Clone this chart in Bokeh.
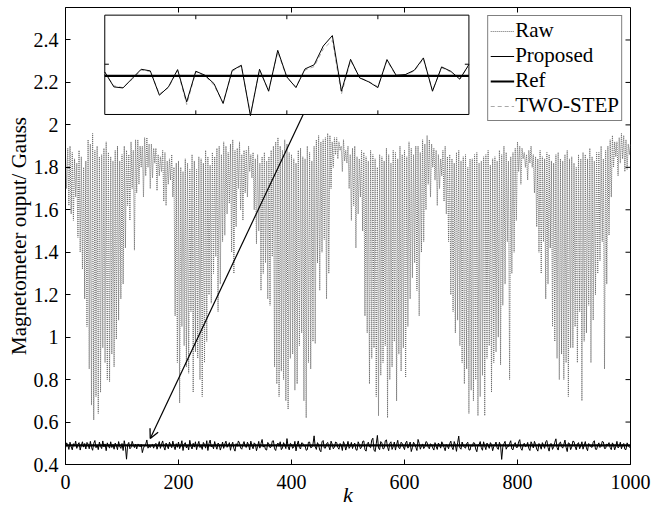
import numpy as np
from bokeh.plotting import figure
from bokeh.models import Range1d, FixedTicker, Arrow, OpenHead, Legend, LegendItem
from bokeh.embed import file_html
from bokeh.resources import INLINE

# ---------------- data ----------------
k_step = 2
raw = [
    1.86,1.70, 1.89,1.62, 1.90,1.58, 1.87,1.55, 1.84,1.66, 1.82,1.47, 1.88,1.40, 1.85,1.32, 1.80,1.18, 1.83,1.05,
    1.93,0.85, 1.91,0.68, 1.96,0.61, 1.88,0.72, 1.90,0.64, 1.85,0.74, 1.86,0.95, 1.89,0.88, 1.92,0.80, 1.87,0.79,
    1.85,0.92, 1.83,0.86, 1.88,0.99, 1.90,1.08, 1.83,1.18, 1.86,1.25, 1.90,1.42, 1.88,1.62, 1.86,1.55, 1.92,1.70,
    1.88,1.41, 1.93,1.68, 1.93,1.72, 1.90,1.80, 1.90,1.66, 1.94,1.76, 1.94,1.80, 1.91,1.70, 1.91,1.75, 1.89,1.82,
    1.89,1.69, 1.86,1.76, 1.85,1.78, 1.88,1.64, 1.87,1.62, 1.83,1.72, 1.84,1.74, 1.86,1.66, 1.80,1.10, 1.82,0.88,
    1.83,0.69, 1.80,1.05, 1.78,0.96, 1.84,0.86, 1.82,0.83, 1.79,1.12, 1.86,0.74, 1.83,0.93, 1.79,0.90, 1.85,0.80,
    1.84,0.72, 1.82,0.88, 1.88,0.98, 1.85,1.20, 1.81,1.16, 1.87,1.30, 1.85,1.38, 1.89,1.12, 1.90,1.25, 1.86,1.45,
    1.92,1.48, 1.90,1.58, 1.87,1.63, 1.91,1.40, 1.93,1.30, 1.88,1.52, 1.89,1.70, 1.92,1.60, 1.86,1.55, 1.88,1.68,
    1.88,1.66, 1.90,1.78, 1.86,1.75, 1.87,1.60, 1.84,1.44, 1.86,1.50, 1.82,1.22, 1.85,1.30, 1.87,1.35, 1.83,1.18,
    1.85,1.15, 1.88,1.38, 1.90,0.86, 1.92,0.78, 1.94,0.72, 1.90,0.84, 1.88,0.80, 1.93,0.70, 1.91,0.66, 1.87,0.90,
    1.86,0.92, 1.84,0.75, 1.82,0.78, 1.88,0.96, 1.89,1.02, 1.85,0.70, 1.84,0.62, 1.90,0.88, 1.87,0.85, 1.83,0.98,
    1.90,0.97, 1.93,1.35, 1.95,1.22, 1.92,1.40, 1.93,1.46, 1.94,1.18, 1.96,1.30, 1.95,1.70, 1.92,1.80, 1.94,1.86,
    1.94,1.84, 1.92,1.88, 1.90,1.78, 1.93,1.83, 1.88,1.82, 1.90,1.70, 1.86,1.55, 1.89,1.62, 1.90,1.42, 1.85,1.58,
    1.84,1.66, 1.88,1.50, 1.87,1.10, 1.85,1.02, 1.83,0.78, 1.88,0.90, 1.86,0.95, 1.84,0.72, 1.80,0.63, 1.86,0.82,
    1.85,0.88, 1.83,0.96, 1.89,0.62, 1.86,0.80, 1.82,0.86, 1.88,0.98, 1.87,0.70, 1.84,0.92, 1.90,0.84, 1.86,0.95,
    1.88,0.81, 1.85,1.05, 1.92,1.18, 1.89,1.28, 1.86,1.35, 1.90,1.22, 1.90,1.10, 1.87,1.40, 1.93,1.45, 1.91,1.60,
    1.95,1.72, 1.93,1.66, 1.91,1.80, 1.89,1.74, 1.88,1.62, 1.86,1.70, 1.84,1.76, 1.88,1.64, 1.90,1.58, 1.85,1.45,
    1.86,1.20, 1.84,1.12, 1.82,1.02, 1.87,1.08, 1.88,0.96, 1.83,0.88, 1.85,0.78, 1.86,0.85, 1.80,0.64, 1.84,0.75,
    1.84,0.70, 1.86,0.80, 1.87,0.63, 1.82,0.72, 1.83,0.82, 1.85,0.63, 1.86,0.90, 1.88,0.96, 1.81,0.74, 1.84,0.88,
    1.85,0.93, 1.83,1.00, 1.88,0.87, 1.86,1.15, 1.90,1.25, 1.87,1.45, 1.83,0.80, 1.85,1.30, 1.87,1.40, 1.89,1.55,
    1.92,1.78, 1.90,1.72, 1.89,1.84, 1.87,1.80, 1.86,1.74, 1.88,1.82, 1.90,1.80, 1.86,1.68, 1.85,1.52, 1.84,1.40,
    1.88,1.30, 1.85,1.45, 1.84,1.18, 1.87,1.25, 1.86,1.42, 1.83,1.05, 1.82,0.98, 1.86,0.90, 1.87,0.80, 1.84,0.92,
    1.83,0.80, 1.86,0.88, 1.88,0.72, 1.84,0.95, 1.85,0.95, 1.82,1.05, 1.80,0.88, 1.86,1.12, 1.84,0.70, 1.87,0.98,
    1.86,1.02, 1.84,1.15, 1.89,0.88, 1.85,1.08, 1.83,1.20, 1.87,1.30, 1.87,1.36, 1.90,1.45, 1.84,0.85, 1.88,1.25,
    1.90,1.48, 1.93,1.66, 1.95,1.80, 1.92,1.85, 1.92,1.76, 1.94,1.82, 1.96,1.84, 1.95,1.78, 1.93,1.79, 1.91,1.86,
    1.91,
]
proposed = [
    0.478,0.502, 0.493,0.471, 0.505,0.484, 0.469,0.498, 0.487,0.510, 0.476,0.495, 0.503,0.468, 0.491,0.507, 0.482,0.499, 0.473,0.504,
    0.496,0.474, 0.509,0.481, 0.467,0.500, 0.513,0.479, 0.492,0.470, 0.506,0.486, 0.475,0.511, 0.483,0.497, 0.465,0.502, 0.488,0.477,
    0.507,0.480, 0.494,0.472, 0.501,0.489, 0.470,0.508, 0.485,0.476, 0.499,0.466, 0.512,0.484, 0.425,0.493, 0.504,0.474, 0.481,0.509,
    0.4934,0.4797, 0.4957,0.4735, 0.4954,0.4940, 0.4834,0.4948, 0.4560,0.4769, 0.4891,0.4960, 0.5156,0.4769, 0.4883,0.4800, 0.4906,0.4948, 0.4769,0.4940,
    0.4997,0.472, 0.490,0.508, 0.476,0.497, 0.511,0.483, 0.468,0.501, 0.487,0.474, 0.505,0.492, 0.479,0.510, 0.486,0.470, 0.498,0.481,
    0.506,0.475, 0.489,0.512, 0.466,0.495, 0.503,0.478, 0.491,0.469, 0.514,0.486, 0.473,0.500, 0.482,0.507, 0.470,0.493, 0.509,0.480,
    0.488,0.471, 0.504,0.494, 0.477,0.512, 0.466,0.499, 0.515,0.483, 0.490,0.474, 0.508,0.487, 0.472,0.501, 0.495,0.468, 0.484,0.506,
    0.476,0.497, 0.510,0.481, 0.489,0.503, 0.467,0.492, 0.505,0.475, 0.463,0.498, 0.486,0.511, 0.501,0.478, 0.472,0.494, 0.508,0.485,
    0.480,0.505, 0.493,0.469, 0.510,0.488, 0.474,0.502, 0.496,0.465, 0.485,0.509, 0.477,0.499, 0.518,0.482, 0.490,0.471, 0.468,0.504,
    0.497,0.479, 0.483,0.510, 0.512,0.474, 0.466,0.492, 0.501,0.486, 0.507,0.470, 0.478,0.503, 0.491,0.475, 0.522,0.484, 0.469,0.500,
    0.495,0.476, 0.482,0.509, 0.464,0.493, 0.511,0.480, 0.473,0.502, 0.500,0.487, 0.489,0.467, 0.470,0.505, 0.506,0.479, 0.481,0.496,
    0.535,0.484, 0.471,0.503, 0.492,0.468, 0.460,0.507, 0.513,0.478, 0.477,0.498, 0.504,0.485, 0.469,0.510, 0.496,0.474, 0.482,0.506,
    0.503,0.480, 0.472,0.499, 0.490,0.466, 0.508,0.494, 0.468,0.487, 0.509,0.476, 0.485,0.504, 0.475,0.493, 0.501,0.470, 0.467,0.507,
    0.494,0.474, 0.482,0.509, 0.511,0.470, 0.463,0.498, 0.505,0.484, 0.479,0.515, 0.524,0.468, 0.461,0.497, 0.537,0.478, 0.470,0.508,
    0.502,0.473, 0.476,0.512, 0.516,0.482, 0.465,0.500, 0.507,0.471, 0.484,0.506, 0.468,0.494, 0.514,0.478, 0.475,0.505, 0.499,0.483,
    0.470,0.501, 0.510,0.477, 0.487,0.506, 0.461,0.479, 0.505,0.495, 0.481,0.466, 0.518,0.500, 0.472,0.486, 0.497,0.475, 0.484,0.508,
    0.504,0.481, 0.474,0.498, 0.492,0.478, 0.468,0.503, 0.486,0.471, 0.501,0.492, 0.477,0.507, 0.496,0.480, 0.465,0.494, 0.488,0.474,
    0.499,0.510, 0.481,0.470, 0.508,0.493, 0.462,0.502, 0.534,0.478, 0.472,0.506, 0.490,0.481, 0.477,0.499, 0.505,0.469, 0.468,0.492,
    0.486,0.503, 0.501,0.473, 0.460,0.491, 0.494,0.508, 0.479,0.467, 0.507,0.487, 0.470,0.501, 0.490,0.476, 0.503,0.494, 0.465,0.485,
    0.492,0.506, 0.477,0.471, 0.505,0.490, 0.424,0.482, 0.498,0.509, 0.472,0.484, 0.485,0.500, 0.512,0.473, 0.469,0.494, 0.503,0.480,
    0.481,0.507, 0.517,0.476, 0.467,0.491, 0.500,0.484, 0.487,0.504, 0.475,0.466, 0.507,0.495, 0.478,0.509, 0.494,0.473, 0.463,0.499,
    0.488,0.472, 0.503,0.491, 0.476,0.508, 0.513,0.480, 0.463,0.497, 0.498,0.471, 0.484,0.505, 0.521,0.479, 0.468,0.501, 0.506,0.485,
    0.477,0.495, 0.515,0.481, 0.461,0.502, 0.499,0.470, 0.482,0.510, 0.508,0.484, 0.469,0.496, 0.503,0.474, 0.488,0.507, 0.472,0.490,
    0.508,0.478, 0.465,0.499, 0.493,0.483, 0.481,0.505, 0.512,0.472, 0.471,0.491, 0.502,0.480, 0.486,0.509, 0.506,0.475, 0.476,0.497,
    0.491,0.503, 0.480,0.470, 0.502,0.492, 0.469,0.486, 0.509,0.478, 0.485,0.505, 0.474,0.493, 0.499,0.472, 0.470,0.502, 0.490,0.481,
    0.486,
]
ref_value = 0.49
ref_k = [0, 1000]

# zoomed inset (k = 120 ... 160, every sample)
inset_k_start = 120
inset_proposed = [
    0.4934, 0.4806, 0.4797, 0.4877, 0.4957, 0.4943, 0.4735, 0.4806, 0.4954, 0.4678,
    0.4940, 0.4906, 0.4834, 0.4664, 0.4948, 0.4991, 0.4560, 0.4957, 0.4769, 0.5119,
    0.4891, 0.4800, 0.4960, 0.4995, 0.5156, 0.5245, 0.4769, 0.5042, 0.4883, 0.4849,
    0.4800, 0.5040, 0.4906, 0.4911, 0.4948, 0.5054, 0.4769, 0.4977, 0.4940, 0.4872,
    0.4997,
]
inset_twostep = [
    0.4925, 0.4815, 0.4800, 0.4870, 0.4950, 0.4938, 0.4745, 0.4800, 0.4948, 0.4655,
    0.4935, 0.4900, 0.4820, 0.4672, 0.4940, 0.4985, 0.4575, 0.4950, 0.4775, 0.5105,
    0.4885, 0.4808, 0.4950, 0.4980, 0.5130, 0.5205, 0.4745, 0.5030, 0.4887, 0.4852,
    0.4808, 0.5030, 0.4900, 0.4908, 0.4942, 0.5045, 0.4775, 0.4970, 0.4935, 0.4878,
    0.4990,
]
inset_k_range = (120, 160)
inset_v_range = (0.457, 0.542)
inset_xticks = [130, 140, 150]
inset_yticks = [0.50]

x_ticks = [0, 200, 400, 600, 800, 1000]
y_ticks = [0.4, 0.6, 0.8, 1.0, 1.2, 1.4, 1.6, 1.8, 2.0, 2.2, 2.4]
y_tick_labels = ["0.4", "0.6", "0.8", "1", "1.2", "1.4", "1.6", "1.8", "2", "2.2", "2.4"]

# ---------------- layout constants ----------------
W, H = 652, 515
BORDER = dict(left=65, right=22, top=7, bottom=51)
X_RANGE = (0, 1000)
Y_RANGE = (0.4, 2.553)
BOX = dict(x0=69.5, x1=714.0, y0=2.049, y1=2.517)   # inset frame, main data units
ARROW = dict(x0=420.7, y0=2.049, x1=150.0, y1=0.523)
FONT = "Liberation Serif"
frame_w = W - BORDER["left"] - BORDER["right"]
frame_h = H - BORDER["top"] - BORDER["bottom"]
px_x = frame_w / (X_RANGE[1] - X_RANGE[0])
px_y = frame_h / (Y_RANGE[1] - Y_RANGE[0])
TICK_X = 5 / px_x
TICK_Y = 5 / px_y

k_main = np.arange(len(raw)) * k_step
k_inset = inset_k_start + np.arange(len(inset_proposed))

p = figure(width=W, height=H, x_range=Range1d(*X_RANGE), y_range=Range1d(*Y_RANGE),
           output_backend="svg", toolbar_location=None,
           min_border_left=BORDER["left"], min_border_right=BORDER["right"],
           min_border_top=BORDER["top"], min_border_bottom=BORDER["bottom"])
p.background_fill_color = "white"
p.border_fill_color = "white"
p.xgrid.visible = False
p.ygrid.visible = False
p.outline_line_color = "black"
p.outline_line_width = 1

# inset ranges mapped onto the main frame
sx = (inset_k_range[1] - inset_k_range[0]) / (BOX["x1"] - BOX["x0"])
sy = (inset_v_range[1] - inset_v_range[0]) / (BOX["y1"] - BOX["y0"])
p.extra_x_ranges = {"ix": Range1d(inset_k_range[0] + (X_RANGE[0] - BOX["x0"]) * sx,
                                  inset_k_range[0] + (X_RANGE[1] - BOX["x0"]) * sx)}
p.extra_y_ranges = {"iy": Range1d(inset_v_range[0] + (Y_RANGE[0] - BOX["y0"]) * sy,
                                  inset_v_range[0] + (Y_RANGE[1] - BOX["y0"]) * sy)}

# main series
r_raw = p.line(k_main, raw, line_color="#6c6c6c", line_width=1, line_dash="1 1")
r_prop = p.line(k_main, proposed, line_color="black", line_width=1)
r_ref = p.line(ref_k, [ref_value, ref_value], line_color="black", line_width=2.2)

# top / right ticks of the main box
p.segment(x0=x_ticks, x1=x_ticks, y0=[Y_RANGE[1]] * len(x_ticks), y1=[Y_RANGE[1] - TICK_Y] * len(x_ticks),
          line_color="black", line_width=1)
p.segment(x0=[X_RANGE[1]] * len(y_ticks), x1=[X_RANGE[1] - TICK_X] * len(y_ticks), y0=y_ticks, y1=y_ticks,
          line_color="black", line_width=1)

# inset
p.quad(left=[inset_k_range[0]], right=[inset_k_range[1]], bottom=[inset_v_range[0]], top=[inset_v_range[1]],
       fill_color="white", line_color="black", line_width=1, x_range_name="ix", y_range_name="iy")
tk = 0.45
tv = 0.0035
n = len(inset_xticks)
p.segment(x0=inset_xticks, x1=inset_xticks, y0=[inset_v_range[0]] * n, y1=[inset_v_range[0] + tv] * n,
          line_color="black", x_range_name="ix", y_range_name="iy")
p.segment(x0=inset_xticks, x1=inset_xticks, y0=[inset_v_range[1]] * n, y1=[inset_v_range[1] - tv] * n,
          line_color="black", x_range_name="ix", y_range_name="iy")
p.segment(x0=[inset_k_range[0], inset_k_range[1]], x1=[inset_k_range[0] + tk, inset_k_range[1] - tk],
          y0=inset_yticks * 2, y1=inset_yticks * 2,
          line_color="black", x_range_name="ix", y_range_name="iy")
r_two = p.line(k_inset, inset_twostep, line_color="#a8a8a8", line_width=1, line_dash="4 3",
               x_range_name="ix", y_range_name="iy")
p.line(k_inset, inset_proposed, line_color="black", line_width=1, x_range_name="ix", y_range_name="iy")
p.line([inset_k_range[0], inset_k_range[1]], [ref_value, ref_value], line_color="black", line_width=2.2,
       x_range_name="ix", y_range_name="iy")

p.add_layout(Arrow(end=OpenHead(size=9, line_width=1.3, line_color="black"),
                   x_start=ARROW["x0"], y_start=ARROW["y0"], x_end=ARROW["x1"], y_end=ARROW["y1"],
                   line_color="black", line_width=1.2))

# axes
for ax in (p.xaxis[0], p.yaxis[0]):
    ax.major_tick_in = 5
    ax.major_tick_out = 0
    ax.minor_tick_in = 0
    ax.minor_tick_out = 0
    ax.axis_line_color = "black"
    ax.major_tick_line_color = "black"
    ax.major_label_text_font = FONT
    ax.major_label_text_font_size = "20px"
    ax.major_label_text_color = "black"
    ax.axis_label_text_font = FONT
    ax.axis_label_text_font_size = "21px"
    ax.axis_label_text_color = "black"
    ax.axis_label_text_font_style = "normal"
p.xaxis.ticker = FixedTicker(ticks=x_ticks)
p.yaxis.ticker = FixedTicker(ticks=y_ticks)
p.yaxis.major_label_overrides = {t: l for t, l in zip(y_ticks, y_tick_labels)}
p.xaxis.axis_label = "k"
p.xaxis.axis_label_text_font_style = "italic"
p.xaxis.axis_label_text_font_size = "22px"
p.xaxis.major_label_standoff = 10
p.xaxis.axis_label_standoff = -10
p.yaxis.axis_label = "Magnetometer ouput/ Gauss"
p.yaxis.major_label_standoff = 7
p.yaxis.axis_label_standoff = 0

legend = Legend(items=[LegendItem(label="Raw", renderers=[r_raw]),
                       LegendItem(label="Proposed", renderers=[r_prop]),
                       LegendItem(label="Ref", renderers=[r_ref]),
                       LegendItem(label="TWO-STEP", renderers=[r_two])],
                location="top_right")
legend.margin = 8
legend.padding = 2
legend.spacing = 0
legend.label_standoff = 1
legend.glyph_width = 24
legend.glyph_height = 20
legend.label_height = 20
legend.label_text_font = FONT
legend.label_text_font_size = "21px"
legend.label_text_color = "black"
legend.border_line_color = "black"
legend.border_line_width = 1
legend.background_fill_alpha = 1
p.add_layout(legend)

open("out.html", "w").write(file_html(p, INLINE))
